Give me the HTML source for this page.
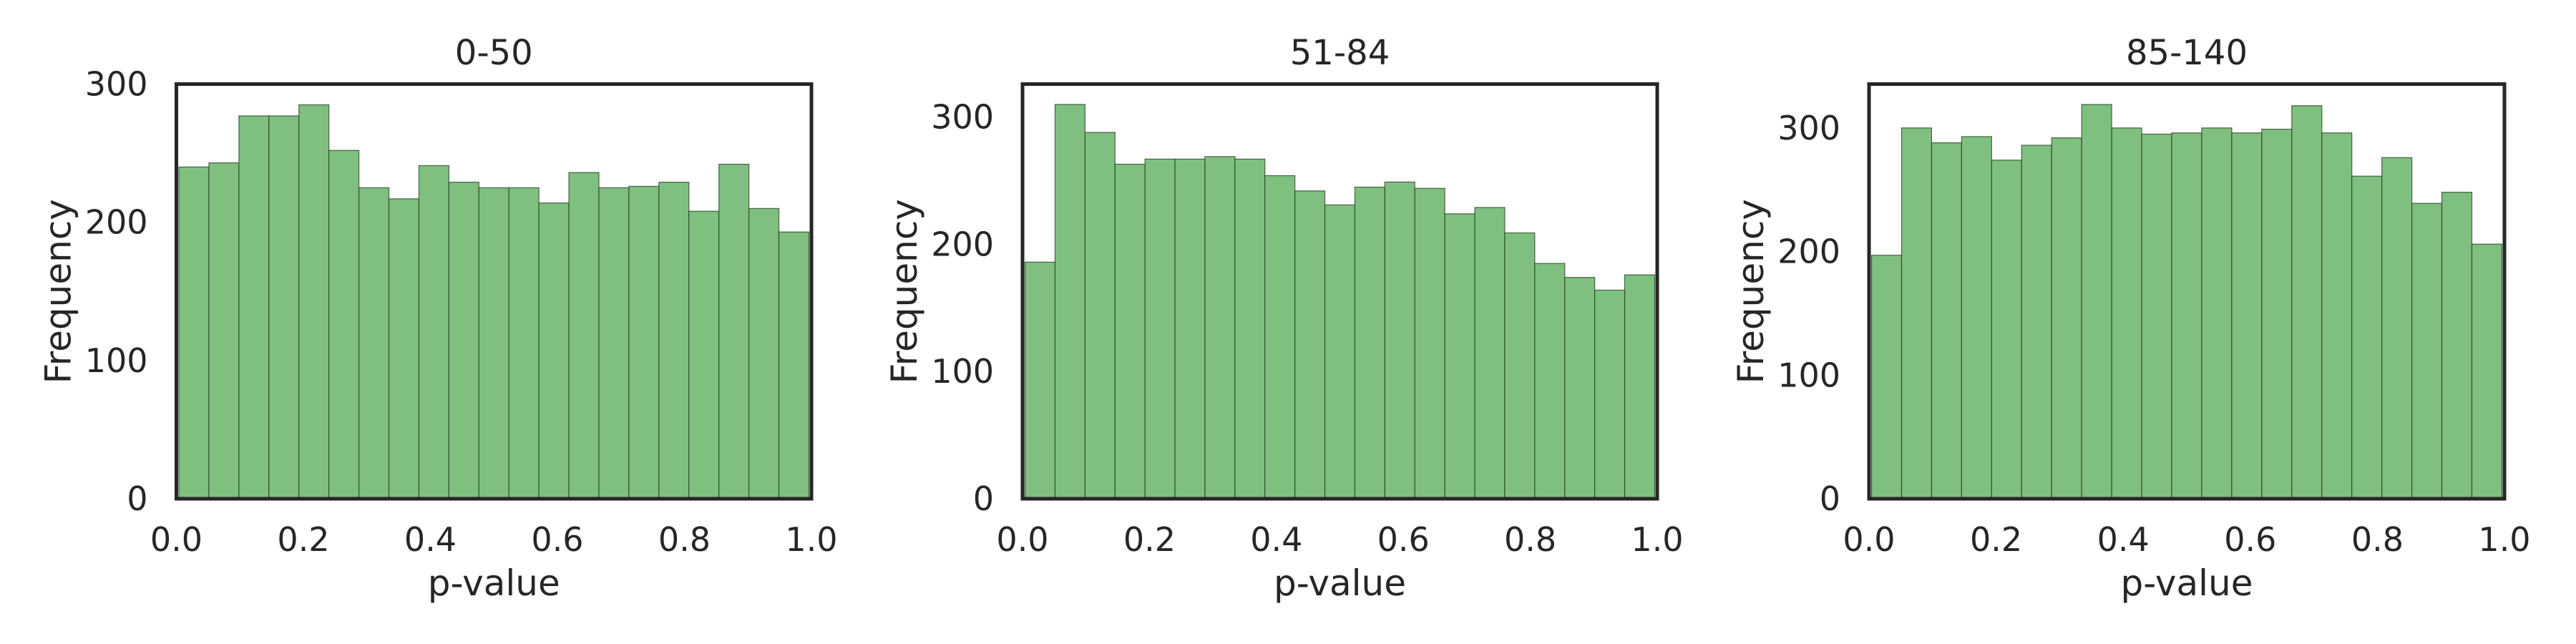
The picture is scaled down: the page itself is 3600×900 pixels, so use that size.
<!DOCTYPE html>
<html><head><meta charset="utf-8">
<style>
html,body{margin:0;padding:0;background:#fff;}
svg{display:block;}
text{font-family:"DejaVu Sans","Liberation Sans",sans-serif;fill:#262626;}
</style></head>
<body>
<svg id="chart" width="3600" height="900" viewBox="0 0 3600 900" xmlns="http://www.w3.org/2000/svg"></svg>
<script>
const titles = ["0-50", "51-84", "85-140"];
const counts0 = [240,243,277,277,285,252,225,217,241,229,225,225,214,236,225,226,229,208,242,210,193];
const counts1 = [186,310,288,263,267,267,269,267,254,242,231,245,249,244,224,229,209,185,174,164,176];
const counts2 = [197,300,288,293,274,286,292,319,300,295,296,300,296,299,318,296,261,276,239,248,206];
const yMaxes = [300, 326, 335.5];
const yTicks = [0, 100, 200, 300];
const xTicks = [0.0, 0.2, 0.4, 0.6, 0.8, 1.0];
const xTickLabels = ["0.0","0.2","0.4","0.6","0.8","1.0"];
const binLo = 0.004, binHi = 0.996;

const allCounts = [counts0, counts1, counts2];
const panels = [{l:246.5,r:1134},{l:1429,r:2316},{l:2612,r:3500}];
const axTop = 117.5, axBottom = 697;
const NS = "http://www.w3.org/2000/svg";
const svgEl = document.getElementById('chart');
function mk(tag, attrs, parent){const e=document.createElementNS(NS,tag);for(const k in attrs)e.setAttribute(k,attrs[k]);(parent||svgEl).appendChild(e);return e;}

panels.forEach((p, i) => {
  const g = mk('g', {});
  
  
  const xs = v => p.l + v * (p.r - p.l);
  const ys = v => axBottom - v / yMaxes[i] * (axBottom - axTop);
  const counts = allCounts[i];
  const n = counts.length;
  const bw = (binHi - binLo) / n;
  counts.forEach((c, j) => {
    const x0 = xs(binLo + j * bw), x1 = xs(binLo + (j + 1) * bw);
    const r = mk('rect', {x:x0, y:ys(c), width:x1-x0, height:ys(0)-ys(c), fill:'#7fbf7f', stroke:'#1f3a1f', 'stroke-opacity':0.75, 'stroke-width':1.2}, g);
    
    
  });
  const fr = mk('rect', {x:p.l, y:axTop, width:p.r-p.l, height:axBottom-axTop, fill:'none', stroke:'#262626', 'stroke-width':5}, g);
  
  
  yTicks.forEach(t => {
    if (t > yMaxes[i]) return;
    const tx = mk('text', {x:p.l-40, y:ys(t)+16, 'font-size':46, 'text-anchor':'end'}, g);
    tx.textContent = String(t);
    
    
  });
  xTicks.forEach((t, k) => {
    const tx = mk('text', {x:xs(t), y:770, 'font-size':46, 'text-anchor':'middle'}, g);
    tx.textContent = xTickLabels[k];
    
    
  });
  const xl = mk('text', {x:(p.l+p.r)/2, y:832, 'font-size':50, 'text-anchor':'middle'}, g);
  xl.textContent = 'p-value';
  
  
  const yx = p.l - 148;
  const yc = (axTop + axBottom) / 2;
  const yl = mk('text', {x:yx, y:yc, 'font-size':50, 'text-anchor':'middle', transform:'rotate(-90 '+yx+' '+yc+')'}, g);
  yl.textContent = 'Frequency';
  
  
  const tt = mk('text', {x:(p.l+p.r)/2, y:90, 'font-size':48, 'text-anchor':'middle'}, g);
  tt.textContent = titles[i];
  
  
});
</script>
</body></html>
